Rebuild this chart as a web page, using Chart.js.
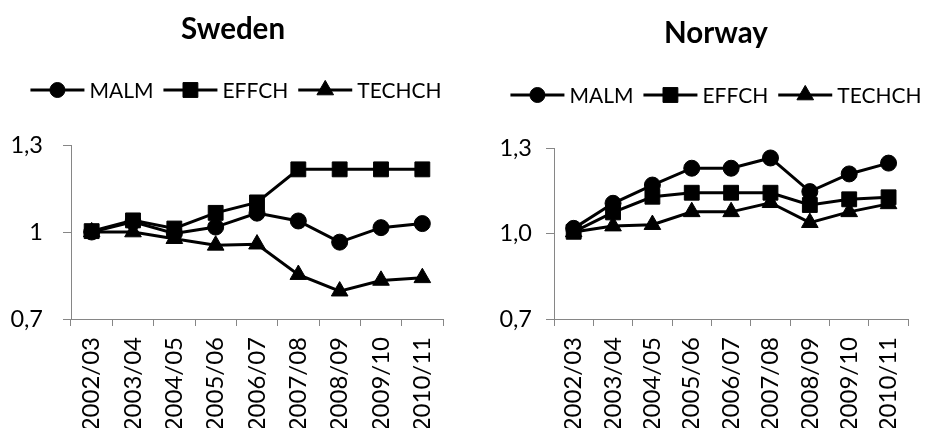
<!DOCTYPE html>
<html>
<head>
<meta charset="utf-8">
<title>MALM, EFFCH and TECHCH – Sweden and Norway</title>
<script src="https://cdn.jsdelivr.net/npm/chart.js@4.4.1/dist/chart.umd.min.js"></script>
<style>
  html, body { margin: 0; padding: 0; background: #fff; }
  #wrap { position: relative; width: 929px; height: 428px; overflow: hidden; }
  canvas { position: absolute; top: 0; }
  #sweden { left: 0; }
  #norway { left: 465px; }
</style>
</head>
<body>
<div id="wrap">
  <canvas id="sweden" width="465" height="428"></canvas>
  <canvas id="norway" width="464" height="428"></canvas>
</div>
<script>
// Periods on the category axis
const periods = ['2002/03', '2003/04', '2004/05', '2005/06', '2006/07', '2007/08', '2008/09', '2009/10', '2010/11'];

// Series names
const seriesNames = ['MALM', 'EFFCH', 'TECHCH'];

// Sweden
const swedenMALM   = [1.000, 1.035, 0.995, 1.017, 1.065, 1.038, 0.965, 1.015, 1.029];
const swedenEFFCH  = [1.003, 1.040, 1.012, 1.066, 1.102, 1.216, 1.216, 1.216, 1.216];
const swedenTECHCH = [1.000, 1.000, 0.977, 0.954, 0.958, 0.853, 0.796, 0.833, 0.842];

// Norway
const norwayMALM   = [1.018, 1.106, 1.170, 1.229, 1.229, 1.265, 1.147, 1.209, 1.247];
const norwayEFFCH  = [1.006, 1.074, 1.129, 1.143, 1.143, 1.143, 1.100, 1.120, 1.127];
const norwayTECHCH = [1.005, 1.026, 1.031, 1.076, 1.076, 1.108, 1.038, 1.076, 1.104];

// Value axis ticks and their printed labels
const yTickValues = [0.7, 1.0, 1.3];
const swedenYLabels = ['0,7', '1', '1,3'];
const norwayYLabels = ['0,7', '1,0', '1,3'];

const AXIS_GREY = '#868686';
const FONT = 'Lato, "Open Sans", sans-serif';
Chart.defaults.font.family = FONT;
Chart.defaults.color = '#000';

const markerStyles = ['circle', 'rect', 'triangle'];
const markerRadius = { circle: 8, rect: 10.5, triangle: 9.6 };
const legendRadius = { circle: 7.5, rect: 10.5, triangle: 9.6 };

function drawMarker(ctx, style, r, x, y) {
  if (Chart.helpers && Chart.helpers.drawPoint) {
    Chart.helpers.drawPoint(ctx, { pointStyle: style, radius: r, rotation: 0, borderWidth: 1 }, x, y);
    return;
  }
  ctx.beginPath();
  if (style === 'circle') ctx.arc(x, y, r, 0, Math.PI * 2);
  else if (style === 'rect') { const s = r * Math.SQRT1_2; ctx.rect(x - s, y - s, 2 * s, 2 * s); }
  else { ctx.moveTo(x, y - r); ctx.lineTo(x + r * 0.866, y + r / 2); ctx.lineTo(x - r * 0.866, y + r / 2); ctx.closePath(); }
  ctx.fill(); ctx.stroke();
}

// Title and line-with-marker legend above the plot
const headerPlugin = {
  id: 'header',
  afterDraw(chart, args, o) {
    const ctx = chart.ctx;
    ctx.save();
    ctx.fillStyle = '#000';
    ctx.strokeStyle = '#000';
    ctx.textBaseline = 'middle';
    ctx.textAlign = 'center';
    ctx.font = `bold ${o.titleSize}px ${FONT}`;
    ctx.fillText(o.title, o.titleX, o.titleY);

    ctx.font = `${o.legendSize}px ${FONT}`;
    const seg = 54, gapText = 5, gapItem = 10;
    const items = chart.data.datasets.map(ds => ({ ds, w: ctx.measureText(ds.label).width }));
    const total = items.reduce((s, it) => s + seg + gapText + it.w, 0) + gapItem * (items.length - 1);
    let x = o.legendX - total / 2;
    const y = o.legendY;
    ctx.textAlign = 'left';
    items.forEach(it => {
      ctx.lineWidth = 3;
      ctx.beginPath();
      ctx.moveTo(x, y);
      ctx.lineTo(x + seg, y);
      ctx.stroke();
      ctx.lineWidth = 1;
      drawMarker(ctx, it.ds.pointStyle, legendRadius[it.ds.pointStyle], x + seg / 2, y);
      ctx.fillText(it.ds.label, x + seg + gapText, y + 1);
      x += seg + gapText + it.w + gapItem;
    });
    ctx.restore();
  }
};

function buildChart(canvasId, values, yLabels, g) {
  const datasets = values.map((arr, i) => ({
    label: seriesNames[i],
    data: arr,
    borderColor: '#000',
    backgroundColor: '#000',
    borderWidth: 3,
    pointStyle: markerStyles[i],
    pointRadius: markerRadius[markerStyles[i]],
    pointBorderWidth: 1,
    pointBackgroundColor: '#000',
    pointBorderColor: '#000',
    tension: 0,
    clip: false,
    order: values.length - i
  }));

  return new Chart(document.getElementById(canvasId), {
    type: 'line',
    data: { labels: periods, datasets },
    plugins: [headerPlugin],
    options: {
      responsive: false,
      animation: false,
      devicePixelRatio: 1,
      events: [],
      layout: { padding: { left: 0, right: g.padRight, top: g.padTop, bottom: 0 } },
      plugins: {
        legend: { display: false },
        title: { display: false },
        tooltip: { enabled: false },
        header: g.header
      },
      scales: {
        x: {
          type: 'category',
          offset: true,
          afterFit(scale) { scale.height = g.xHeight; },
          grid: { offset: true, drawOnChartArea: false, drawTicks: true, tickLength: 7, color: AXIS_GREY, lineWidth: 1 },
          border: { display: true, color: AXIS_GREY, width: 1 },
          ticks: {
            autoSkip: false,
            minRotation: 90,
            maxRotation: 90,
            padding: 11,
            color: '#000',
            font: { size: 24, family: FONT }
          }
        },
        y: {
          min: 0.7,
          max: 1.3,
          afterFit(scale) { scale.width = g.yWidth; },
          afterBuildTicks(scale) { scale.ticks = yTickValues.map(v => ({ value: v })); },
          grid: { drawOnChartArea: false, drawTicks: true, tickLength: 8, color: AXIS_GREY, lineWidth: 1 },
          border: { display: true, color: AXIS_GREY, width: 1 },
          ticks: {
            padding: g.yPad,
            color: '#000',
            font: { size: 23.5, family: FONT },
            callback(value) {
              const idx = yTickValues.findIndex(v => Math.abs(v - value) < 1e-6);
              return idx >= 0 ? yLabels[idx] : '';
            }
          }
        }
      }
    }
  });
}

buildChart('sweden', [swedenMALM, swedenEFFCH, swedenTECHCH], swedenYLabels, {
  padRight: 22, padTop: 145, xHeight: 109, yWidth: 71, yPad: 20,
  header: { title: 'Sweden', titleX: 233, titleY: 29, titleSize: 29.5, legendX: 236, legendY: 90, legendSize: 21 }
});

buildChart('norway', [norwayMALM, norwayEFFCH, norwayTECHCH], norwayYLabels, {
  padRight: 9, padTop: 148, xHeight: 109, yWidth: 89, yPad: 14,
  header: { title: 'Norway', titleX: 716 - 465, titleY: 33, titleSize: 29.5, legendX: 716 - 465, legendY: 95, legendSize: 21 }
});
</script>
</body>
</html>
